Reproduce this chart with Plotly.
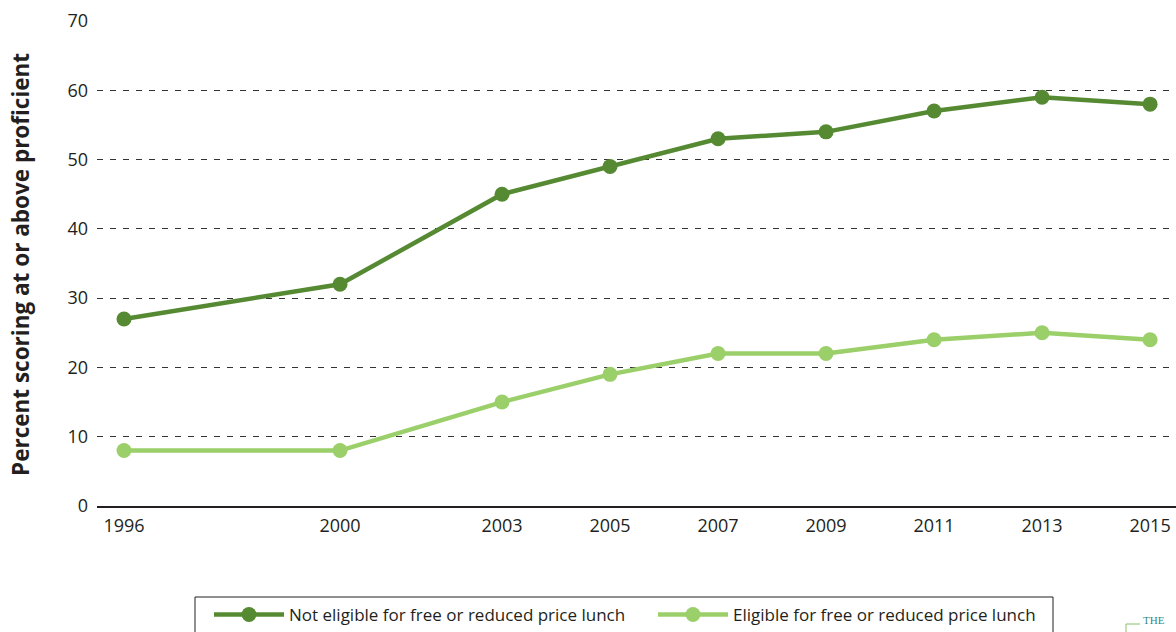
import plotly.graph_objects as go

# NAEP proficiency by lunch eligibility
years = [1996, 2000, 2003, 2005, 2007, 2009, 2011, 2013, 2015]
not_eligible = [27, 32, 45, 49, 53, 54, 57, 59, 58]
eligible = [8, 8, 15, 19, 22, 22, 24, 25, 24]
series_names = ["Not eligible for free or reduced price lunch",
                "Eligible for free or reduced price lunch"]
y_ticks = [0, 10, 20, 30, 40, 50, 60, 70]

DARK = "#558a33"
LIGHT = "#9bcf69"
FONT = "Open Sans"
INK = "#231f20"

fig = go.Figure()
for name, vals, col in [(series_names[0], not_eligible, DARK),
                        (series_names[1], eligible, LIGHT)]:
    fig.add_trace(go.Scatter(
        x=years, y=vals, name=name, mode="lines+markers",
        line=dict(color=col, width=4.5),
        marker=dict(color=col, size=15),
        cliponaxis=False,
    ))

W, H = 1176, 632
L, T, B = 97, 21, 126
PW, PH = W - L, H - T - B


def px(x):
    return (x - L) / PW


def py(y):
    return (H - B - y) / PH


fig.update_layout(
    width=W, height=H,
    margin=dict(l=L, r=0, t=T, b=B, autoexpand=False),
    paper_bgcolor="white", plot_bgcolor="white",
    font=dict(family=FONT, size=16, color=INK),
    showlegend=True,
    legend=dict(
        orientation="h", xref="container", yref="container",
        x=209 / W, y=1 - 615 / H, xanchor="left", yanchor="middle",
        font=dict(size=17, family=FONT, color=INK),
        itemwidth=70, entrywidth=359, entrywidthmode="pixels",
        bgcolor="rgba(0,0,0,0)", borderwidth=0,
    ),
    xaxis=dict(
        range=[1995.5, 2015.48], tickmode="array", tickvals=years,
        ticktext=[str(y) for y in years],
        showgrid=False, zeroline=False,
        showline=True, linecolor=INK, linewidth=1.5,
        ticks="", ticklabelstandoff=3,
        tickfont=dict(size=18, family=FONT, color=INK),
    ),
    yaxis=dict(
        range=[0, 70], tickmode="array", tickvals=y_ticks,
        showgrid=True, gridcolor="#333333", gridwidth=1, griddash="6px,7px",
        zeroline=False, showline=False, ticks="", ticklabelstandoff=8,
        tickfont=dict(size=18, family=FONT, color=INK),
    ),
    annotations=[
        dict(text="<b>Percent scoring at or above proficient</b>",
             xref="paper", yref="paper", x=px(20), y=py(265),
             xanchor="center", yanchor="middle", textangle=-90,
             showarrow=False, font=dict(size=22.5, family=FONT, color=INK)),
        dict(text="THE", xref="paper", yref="paper",
             x=px(1141), y=py(620),
             xanchor="left", yanchor="middle", showarrow=False,
             font=dict(size=11, family="Liberation Serif", color="#2c8c8c")),
    ],
    shapes=[
        dict(type="rect", xref="paper", yref="paper",
             x0=px(195), x1=px(1053), y0=py(597), y1=py(660),
             line=dict(color=INK, width=1), fillcolor="rgba(0,0,0,0)"),
        dict(type="line", xref="paper", yref="paper",
             x0=px(1126), x1=px(1140), y0=py(624), y1=py(624),
             line=dict(color="#8cc06a", width=1)),
        dict(type="line", xref="paper", yref="paper",
             x0=px(1126), x1=px(1126), y0=py(624), y1=py(640),
             line=dict(color="#8cc06a", width=1)),
    ],
)

fig.write_html("out.html")
